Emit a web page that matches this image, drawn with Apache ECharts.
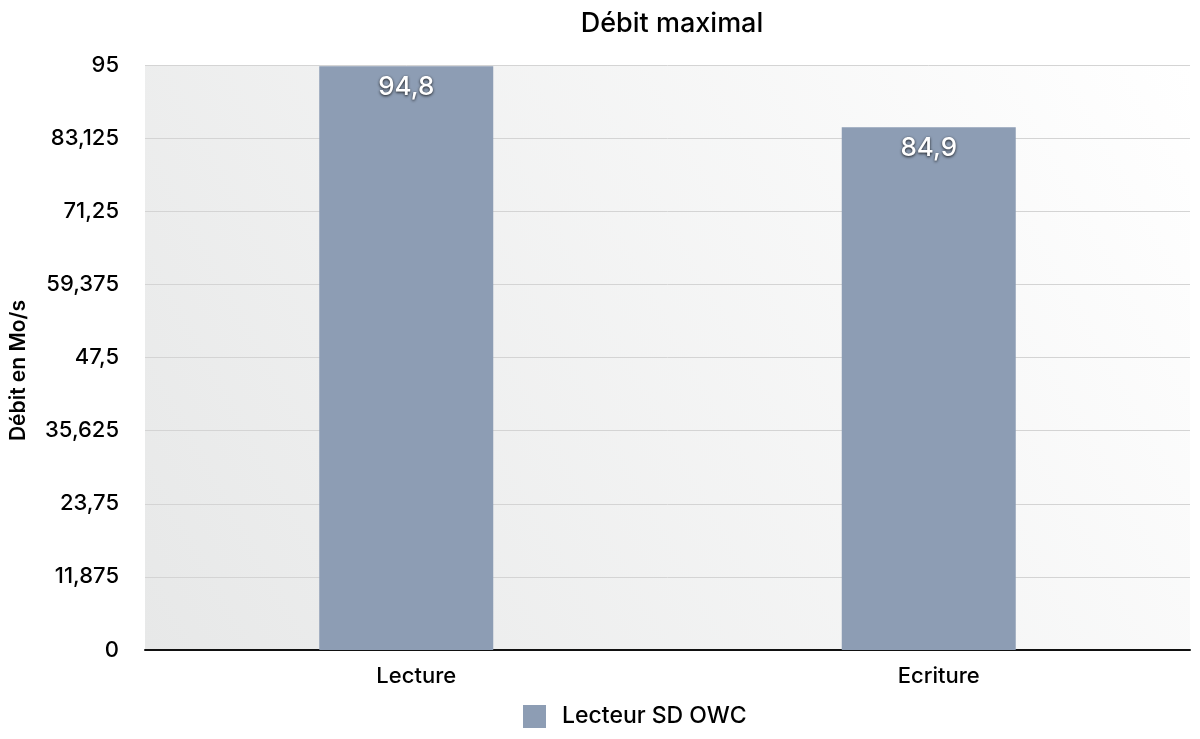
<!DOCTYPE html>
<html>
<head>
<meta charset="utf-8">
<script src="https://cdn.jsdelivr.net/npm/echarts@6/dist/echarts.min.js"></script>
<style>html,body{margin:0;padding:0;background:#fff}#c{width:1200px;height:739px}</style>
</head>
<body>
<div id="c"></div>
<script>
const categories = ['Lecture', 'Ecriture'];
const seriesName = 'Lecteur SD OWC';
const values = [94.8, 84.9];
const yMin = 0, yMax = 95, yStep = 11.875;

const fmt = v => String(v).replace('.', ',');
const FONT = 'Inter, "Liberation Sans", Arial, sans-serif';

const chart = echarts.init(document.getElementById('c'));
chart.setOption({
  animation: false,
  textStyle: { fontFamily: FONT },
  title: {
    text: 'Débit maximal', left: 667, textAlign: 'center', top: 5,
    textStyle: { fontFamily: FONT, fontSize: 27, fontWeight: 500, color: '#000' }
  },
  legend: {
    bottom: 11, left: 523, padding: 0,
    data: [seriesName],
    icon: 'rect', itemWidth: 23, itemHeight: 23, itemGap: 10,
    textStyle: { fontFamily: FONT, fontSize: 23, fontWeight: 500, color: '#000', padding: [0, 0, 0, 11] }
  },
  grid: {
    left: 144, right: 10, top: 65, bottom: 89,
    show: true, borderWidth: 0,
    backgroundColor: new echarts.graphic.LinearGradient(0, 1, 1, 0, [
      { offset: 0, color: '#e7e8e8' },
      { offset: 1, color: '#ffffff' }
    ])
  },
  xAxis: {
    type: 'category', data: categories,
    axisLine: { lineStyle: { color: '#111', width: 2 } },
    axisTick: { show: false },
    axisLabel: { fontFamily: FONT, fontSize: 22, fontWeight: 500, color: '#000', margin: 15, padding: [0, 0, 0, 20] }
  },
  yAxis: {
    type: 'value', min: yMin, max: yMax, interval: yStep,
    name: 'Débit en Mo/s', nameLocation: 'middle', nameGap: 116, nameRotate: 90,
    nameTextStyle: { fontFamily: FONT, fontSize: 21, color: '#000', fontWeight: 600, padding: [0, 26, 0, 0] },
    axisLine: { show: false }, axisTick: { show: false },
    axisLabel: { fontFamily: FONT, fontSize: 22, fontWeight: 500, color: '#000', margin: 26, formatter: fmt },
    splitLine: { lineStyle: { color: '#d4d4d4', width: 1 } }
  },
  series: [{
    name: seriesName, type: 'bar', data: values, barWidth: '33.3%',
    itemStyle: { color: '#8d9db4' },
    label: {
      show: true, position: 'insideTop', distance: 8,
      formatter: p => fmt(p.value),
      fontFamily: FONT, fontSize: 26, fontWeight: 500, color: '#fff',
      textShadowColor: 'rgba(0,0,0,0.85)', textShadowBlur: 3, textShadowOffsetY: 1
    }
  }]
});
</script>
</body>
</html>
